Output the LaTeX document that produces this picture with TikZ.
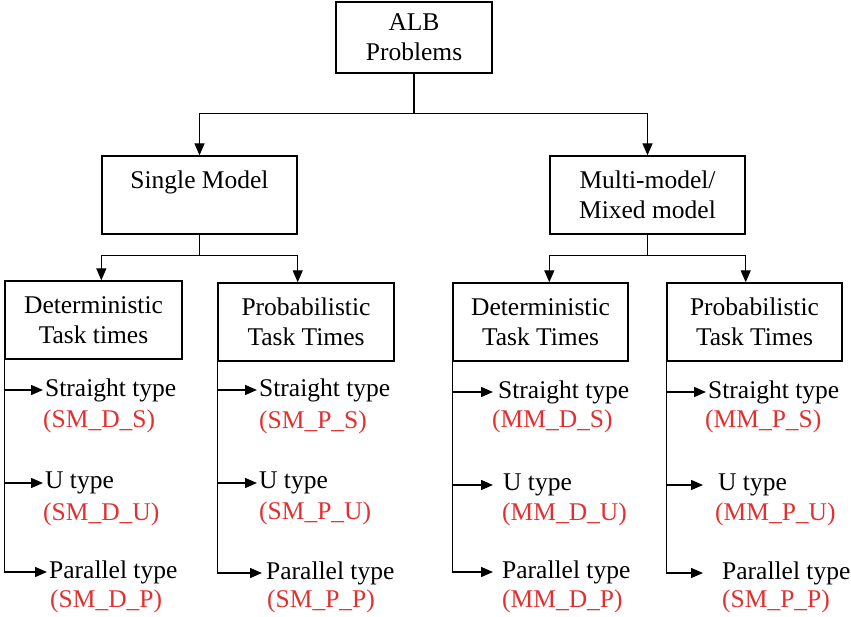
\documentclass[tikz,border=0pt]{standalone}
\usepackage{fontspec}
\setmainfont{Liberation Serif}
\usetikzlibrary{arrows.meta}
\definecolor{typered}{RGB}{226,48,48}
\tikzset{
  box/.style={draw, line width=1.4pt, align=center, inner sep=0pt, minimum height=78pt},
  link/.style={line width=1.4pt},
  arr/.style={line width=1.4pt, -{Triangle[length=12pt,width=10pt]}},
  leaf/.style={anchor=west, inner xsep=2pt, inner ysep=0pt},
  code/.style={anchor=west, inner sep=0pt, text=typered},
}
\begin{document}
\begin{tikzpicture}[x=1pt,y=-1pt,font=\fontsize{25.5}{30}\selectfont]
\useasboundingbox (0,0) rectangle (851,617);

% boxes
\node[box,minimum width=156pt,minimum height=71pt] (alb) at (414,37.5) {ALB\\Problems};
\node[box,minimum width=195pt] (single) at (199.5,195) {Single Model\\\mbox{}};
\node[box,minimum width=195pt] (multi) at (647.5,195) {Multi-model/\\Mixed model};
\node[box,minimum width=177pt] (sd) at (93.5,320) {Deterministic\\Task times};
\node[box,minimum width=176pt] (sp) at (306,322) {Probabilistic\\Task Times};
\node[box,minimum width=175pt] (md) at (540.5,322) {Deterministic\\Task Times};
\node[box,minimum width=175pt] (mp) at (754.5,322) {Probabilistic\\Task Times};

% line types
\node[leaf] (sds) at (43,390) {Straight type};
\node[code] (sdsc) at (43,421) {(SM\_D\_S)};
\node[leaf] (sdu) at (43,483) {U type};
\node[code] (sduc) at (43,514) {(SM\_D\_U)};
\node[leaf] (sdp) at (47,572) {Parallel type};
\node[code] (sdpc) at (50,601) {(SM\_D\_P)};

\node[leaf] (sps) at (257,390) {Straight type};
\node[code] (spsc) at (259,422) {(SM\_P\_S)};
\node[leaf] (spu) at (257,483) {U type};
\node[code] (spuc) at (259,513) {(SM\_P\_U)};
\node[leaf,inner xsep=4pt] (spp) at (262,573) {Parallel type};
\node[code] (sppc) at (267,601) {(SM\_P\_P)};

\node[leaf,inner xsep=5pt] (mds) at (493,392) {Straight type};
\node[code] (mdsc) at (492,421) {(MM\_D\_S)};
\node[leaf,inner xsep=10pt] (mdu) at (493,485) {U type};
\node[code] (mduc) at (502,514) {(MM\_D\_U)};
\node[leaf,inner xsep=9pt] (mdp) at (493,572) {Parallel type};
\node[code] (mdpc) at (502,601) {(MM\_D\_P)};

\node[leaf] (mps) at (706,392) {Straight type};
\node[code] (mpsc) at (705,421) {(MM\_P\_S)};
\node[leaf,inner xsep=15pt] (mpu) at (703,485) {U type};
\node[code] (mpuc) at (715,514) {(MM\_P\_U)};
\node[leaf,inner xsep=19pt] (mpp) at (703,573) {Parallel type};
\node[code] (mppc) at (722,601) {(SM\_P\_P)};

% top levels
\draw[link] (alb.south) -- ++(0,40) coordinate (abus);
\draw[arr] (abus) -| (single.north);
\draw[arr] (abus) -| (multi.north);
\draw[link] (single.south) -- ++(0,21) coordinate (sbus);
\draw[arr] (sbus) -| (single.south west |- sd.north);
\draw[arr] (sbus) -| (single.south east |- sp.north);
\draw[link] (multi.south) -- ++(0,21) coordinate (mbus);
\draw[arr] (mbus) -| (multi.south west |- md.north);
\draw[arr] (mbus) -| (multi.south east |- mp.north);

% rails
\draw[arr] (sd.south west) |- (sdp.west);
\draw[arr] (sd.south west |- sds.west) -- (sds.west);
\draw[arr] (sd.south west |- sdu.west) -- (sdu.west);
\draw[arr] (sp.south west) |- (spp.west);
\draw[arr] (sp.south west |- sps.west) -- (sps.west);
\draw[arr] (sp.south west |- spu.west) -- (spu.west);
\draw[arr] (md.south west) |- (mdp.west);
\draw[arr] (md.south west |- mds.west) -- (mds.west);
\draw[arr] (md.south west |- mdu.west) -- (mdu.west);
\draw[arr] (mp.south west) |- (mpp.west);
\draw[arr] (mp.south west |- mps.west) -- (mps.west);
\draw[arr] (mp.south west |- mpu.west) -- (mpu.west);
\end{tikzpicture}
\end{document}
